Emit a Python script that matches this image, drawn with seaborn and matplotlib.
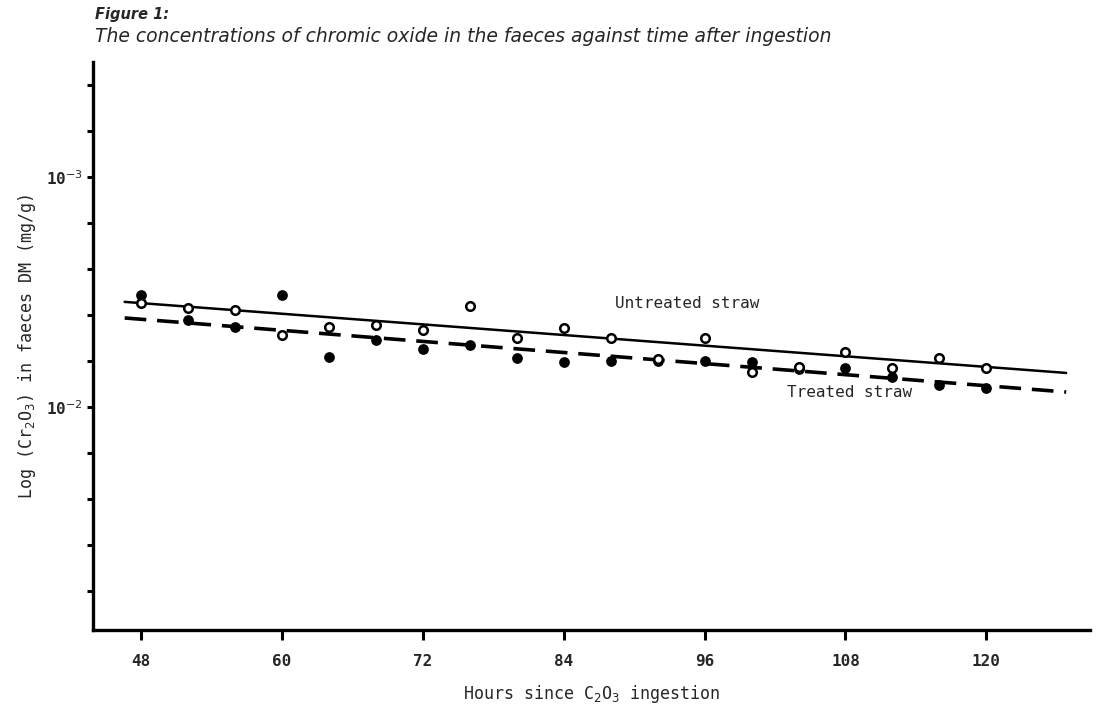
import numpy as np
import pandas as pd
import matplotlib
matplotlib.use("Agg")
import matplotlib.pyplot as plt
import seaborn as sns

# ---- data ----
hours = [48, 52, 56, 60, 64, 68, 72, 76, 80, 84, 88, 92, 96, 100, 104, 108, 112, 116, 120]
# log10 exponent of concentration (axis shows 10^-3 above 10^-2)
untreated = [-2.452, -2.430, -2.422, -2.313, -2.348, -2.357, -2.335, -2.439, -2.300, -2.343,
             -2.300, -2.207, -2.300, -2.152, -2.174, -2.240, -2.168, -2.212, -2.168]
treated = [-2.487, -2.378, -2.348, -2.487, -2.216, -2.291, -2.251, -2.270, -2.212, -2.196,
           -2.200, -2.200, -2.201, -2.197, -2.167, -2.168, -2.132, -2.096, -2.081]
fit_hours = [46.6, 126.8]
fit_untreated = [-2.457, -2.148]
fit_treated = [-2.387, -2.065]
x_ticks = [48, 60, 72, 84, 96, 108, 120]
y_ticks = [-3.4, -3.2, -3.0, -2.8, -2.6, -2.4, -2.2, -2.0, -1.8, -1.6, -1.4, -1.2]
y_tick_labels = {-3.0: "10$^{-3}$", -2.0: "10$^{-2}$"}

sns.set_theme(style="white")
plt.rcParams['font.family'] = ['DejaVu Sans Mono', 'DejaVu Sans']

fig = plt.figure(figsize=(11.04, 7.17), dpi=100)
ax = fig.add_axes([0.0842, 0.1213, 0.9028, 0.7922])

pts = pd.DataFrame({"hours": hours, "untreated": untreated, "treated": treated})
fits = pd.DataFrame({"hours": fit_hours, "untreated": fit_untreated, "treated": fit_treated})

sns.lineplot(data=fits, x="hours", y="untreated", ax=ax, color="black", linewidth=1.8)
sns.lineplot(data=fits, x="hours", y="treated", ax=ax, color="black", linewidth=2.6,
             linestyle=(0, (6, 3)))
sns.scatterplot(data=pts, x="hours", y="treated", ax=ax, color="black", s=45,
                edgecolor="black", linewidth=1, zorder=5)
sns.scatterplot(data=pts, x="hours", y="untreated", ax=ax, facecolor="white", s=38,
                edgecolor="black", linewidth=1.8, zorder=6)

ax.set_xlim(43.9, 128.8)
ax.set_ylim(-1.03, -3.5)

ax.set_xticks(x_ticks)
ax.set_xticklabels([str(v) for v in x_ticks], fontsize=11.5, fontweight="bold")
ax.set_yticks(y_ticks)
ax.set_yticklabels([y_tick_labels.get(round(v, 1), "") for v in y_ticks], fontsize=11.5,
                   fontweight="bold")

for side in ["top", "right"]:
    ax.spines[side].set_visible(False)
for side in ["left", "bottom"]:
    ax.spines[side].set_linewidth(2.4)
    ax.spines[side].set_color("black")
ax.tick_params(axis="x", bottom=True, direction="out", length=7, width=2.2,
               color="black", pad=10)
ax.tick_params(axis="y", left=True, direction="out", length=4, width=2.2,
               color="black", pad=3)

ax.set_xlabel("Hours since C$_2$O$_3$ ingestion", fontsize=12, labelpad=10)
ax.set_ylabel("Log (Cr$_2$O$_3$) in faeces DM (mg/g)", fontsize=12, labelpad=6)

ax.text(88.4, -2.452, "Untreated straw", fontsize=11.5, va="center", ha="left")
ax.text(103.0, -2.061, "Treated straw", fontsize=11.5, va="center", ha="left")

fig.text(0.086, 0.980, "Figure 1:", fontsize=10.5, family="DejaVu Sans",
         style="italic", weight="bold", va="center")
fig.text(0.086, 0.949,
         "The concentrations of chromic oxide in the faeces against time after ingestion",
         fontsize=13.5, family="DejaVu Sans", style="italic", va="center")

fig.savefig("out.png", dpi=100)
